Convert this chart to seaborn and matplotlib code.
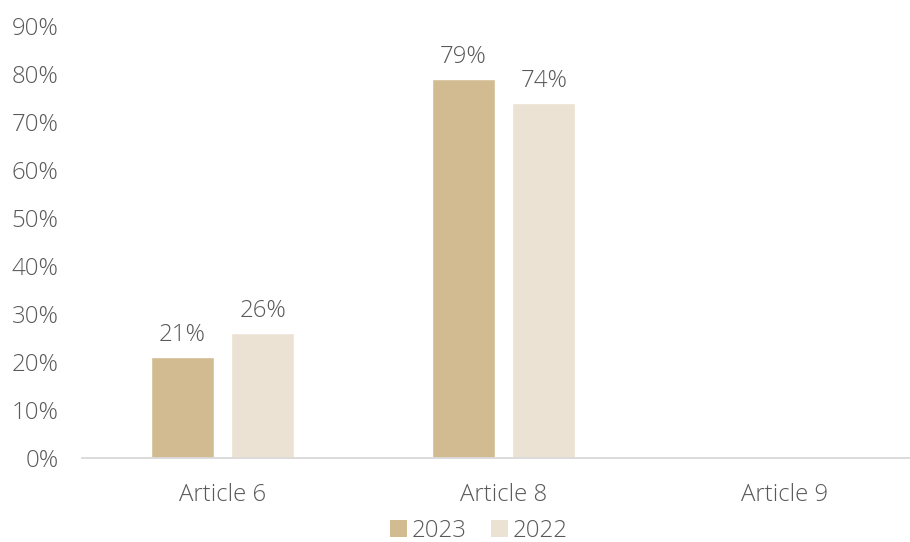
import matplotlib
matplotlib.use("Agg")
import matplotlib.pyplot as plt
from matplotlib.patches import Patch
import seaborn as sns
import pandas as pd

categories = ["Article 6", "Article 8", "Article 9"]
years = ["2023", "2022"]
values_2023 = [21, 79, 0]
values_2022 = [26, 74, 0]
y_ticks = [0, 10, 20, 30, 40, 50, 60, 70, 80, 90]

colors = {"2023": "#D3BB91", "2022": "#EBE2D3"}
text_color = "#595959"
fs = 17.3

df = pd.DataFrame({
    "category": categories * 2,
    "year": ["2023"] * 3 + ["2022"] * 3,
    "value": values_2023 + values_2022,
})

sns.set_theme(style="white")
plt.rcParams["font.family"] = ["Open Sans", "DejaVu Sans"]
plt.rcParams["font.weight"] = "light"

fig = plt.figure(figsize=(9.10, 5.42), dpi=100)
W, H = 910, 542
ax = fig.add_axes([82 / W, 1 - 458 / H, (925 - 82) / W, (458 - 26) / H])

sns.barplot(data=df, x="category", y="value", hue="year", hue_order=years,
            order=categories, palette=colors, width=0.575, gap=0.22,
            saturation=1, legend=False, ax=ax)

ax.set_ylim(0, 90)
ax.set_xlim(-0.5, 2.5)
ax.set_yticks(y_ticks)
ax.set_yticklabels([f"{t}%" for t in y_ticks])
ax.set_xlabel("")
ax.set_ylabel("")

for spine in ["top", "right", "left"]:
    ax.spines[spine].set_visible(False)
ax.spines["bottom"].set_color("#D9D9D9")
ax.spines["bottom"].set_linewidth(1.3)

ax.tick_params(axis="y", length=0, pad=17, labelsize=fs, labelcolor=text_color)
ax.tick_params(axis="x", length=0, pad=18, labelsize=fs, labelcolor=text_color)
for lbl in ax.get_xticklabels() + ax.get_yticklabels():
    lbl.set_fontweight("light")

# value labels on non-zero bars
for container in ax.containers:
    for rect in container:
        h = rect.get_height()
        if h > 0:
            ax.annotate(f"{h:.0f}%", (rect.get_x() + rect.get_width() / 2, h),
                        xytext=(0, 7), textcoords="offset points",
                        ha="center", va="bottom", fontsize=fs,
                        color=text_color, fontweight="light")

handles = [Patch(facecolor=colors[y], edgecolor="none", label=y) for y in years]
fig.legend(handles=handles, loc="center", bbox_to_anchor=(479 / W, 1 - 531 / H),
           ncol=2, frameon=False, handlelength=0.7,
           handleheight=0.7, handletextpad=0.2, columnspacing=1.0,
           labelcolor=text_color, prop={"weight": "light", "size": fs})

fig.savefig("out.png", dpi=100)
